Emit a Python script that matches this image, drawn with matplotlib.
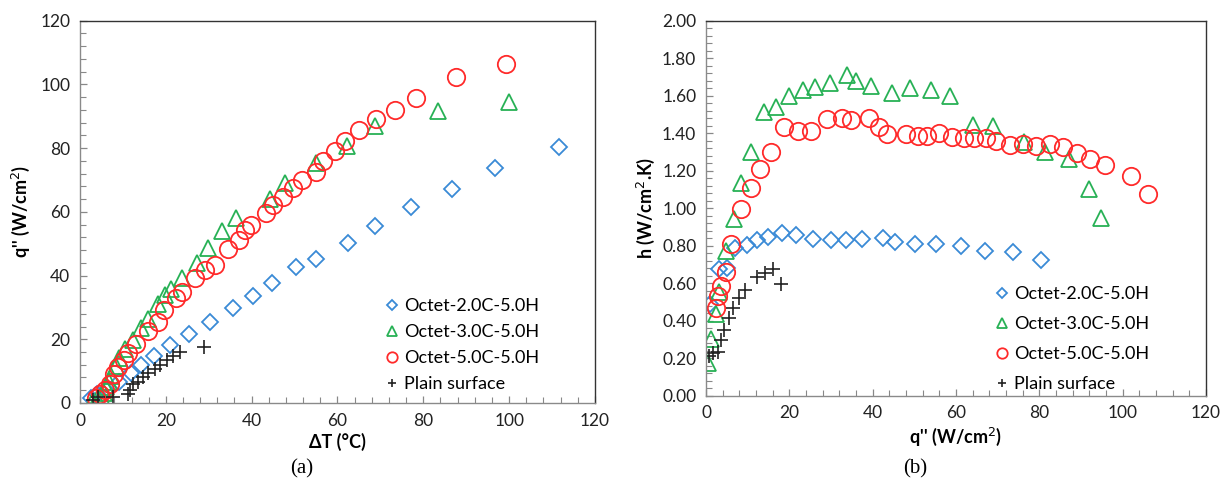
import matplotlib
matplotlib.use("Agg")
import matplotlib.pyplot as plt
from matplotlib.ticker import MultipleLocator, FormatStrFormatter

plt.rcParams['font.family'] = ['Lato', 'DejaVu Sans']

# --- (a) boiling curves: heat flux vs wall superheat ---
dT_20 = [2.5, 4.0, 6.0, 9.0, 11.8, 14.2, 17.3, 21.0, 25.3, 30.3, 35.6, 40.4,
         44.8, 50.3, 55.1, 62.4, 68.8, 77.1, 86.7, 96.6, 111.6]
q_20 = [1.5, 2.8, 4.2, 6.5, 9.3, 12.0, 14.9, 18.2, 21.8, 25.5, 29.9, 33.7,
        37.7, 42.6, 45.3, 50.1, 55.5, 61.4, 67.2, 73.6, 80.4]

dT_30 = [2.8, 4.0, 5.0, 5.5, 6.1, 6.8, 7.3, 8.4, 9.1, 10.5, 12.4, 14.2, 15.8,
         18.2, 19.9, 21.2, 23.8, 27.3, 29.8, 33.1, 36.3, 44.2, 47.8, 55.0,
         62.2, 68.7, 83.4, 100.0]
q_30 = [0.4, 1.2, 2.2, 3.1, 5.0, 6.6, 8.4, 11.5, 14.1, 16.8, 19.7, 23.4, 26.5,
        31.2, 33.8, 35.8, 39.3, 44.0, 48.5, 53.9, 58.1, 63.9, 69.1, 75.4,
        80.6, 86.9, 91.6, 94.6]

dT_50 = [3.7, 4.7, 5.8, 7.0, 7.9, 8.9, 10.3, 11.2, 13.0, 15.8, 18.2, 19.6,
         22.4, 23.8, 26.7, 29.1, 31.4, 34.5, 37.0, 38.4, 39.9, 43.3, 45.0,
         47.3, 49.7, 51.7, 55.0, 56.6, 59.5, 61.7, 65.1, 69.0, 73.3, 78.3,
         87.7, 99.3]
q_50 = [1.7, 2.9, 4.2, 6.1, 9.2, 11.3, 13.4, 15.7, 18.6, 22.5, 25.4, 29.1,
        33.0, 34.9, 39.3, 41.7, 43.2, 48.2, 51.1, 54.2, 55.8, 59.5, 62.1,
        64.7, 67.6, 69.9, 72.6, 75.9, 79.2, 82.3, 85.7, 89.0, 92.1, 95.8,
        102.2, 106.4]

dT_plain = [3.1, 4.3, 7.8, 11.3, 11.6, 12.3, 13.6, 14.7, 15.9, 17.5, 18.6,
            20.2, 21.7, 23.3, 28.9]
q_plain = [0.9, 1.8, 2.0, 2.8, 4.1, 6.0, 6.7, 8.1, 9.3, 10.6, 11.9, 13.5,
           14.8, 16.1, 17.7]

# --- (b) heat transfer coefficient vs heat flux ---
qb_20 = [1.0, 3.0, 5.0, 7.0, 9.8, 12.2, 14.8, 18.2, 21.6, 25.6, 29.9, 33.6,
         37.4, 42.4, 45.3, 50.2, 55.1, 61.3, 67.0, 73.6, 80.4]
h_20 = [0.487, 0.674, 0.683, 0.786, 0.804, 0.830, 0.848, 0.866, 0.857, 0.836,
        0.830, 0.830, 0.836, 0.843, 0.821, 0.807, 0.807, 0.798, 0.773, 0.764,
        0.724]

qb_30 = [0.5, 1.2, 2.3, 3.1, 4.9, 6.6, 8.5, 10.9, 13.9, 16.8, 19.9, 23.2,
         26.2, 29.7, 33.8, 36.0, 39.7, 44.6, 49.0, 54.1, 58.5, 64.1, 68.9,
         76.2, 81.3, 87.2, 91.9, 94.7]
h_30 = [0.172, 0.30, 0.434, 0.555, 0.773, 0.940, 1.132, 1.301, 1.515, 1.538,
        1.60, 1.630, 1.648, 1.669, 1.710, 1.678, 1.652, 1.616, 1.639, 1.630,
        1.598, 1.444, 1.44, 1.355, 1.30, 1.26, 1.10, 0.946]

qb_50 = [2.3, 2.9, 3.6, 4.7, 6.1, 8.3, 10.8, 13.0, 15.6, 18.7, 22.0, 25.3,
         29.0, 32.6, 34.9, 39.2, 41.6, 43.5, 47.9, 50.9, 53.1, 55.9, 59.0,
         61.8, 64.4, 67.2, 69.6, 72.9, 76.0, 79.2, 82.5, 85.6, 89.1, 92.2,
         95.7, 102.1, 106.1]
h_50 = [0.47, 0.53, 0.587, 0.661, 0.809, 0.994, 1.106, 1.207, 1.301, 1.433,
        1.412, 1.412, 1.476, 1.479, 1.470, 1.479, 1.435, 1.396, 1.396, 1.385,
        1.385, 1.403, 1.378, 1.376, 1.376, 1.372, 1.360, 1.337, 1.340, 1.332,
        1.342, 1.324, 1.292, 1.260, 1.230, 1.172, 1.076]

qb_plain = [0.75, 1.7, 2.8, 3.6, 4.3, 5.5, 6.4, 7.8, 9.4, 12.3, 14.2, 16.1,
            17.9]
h_plain = [0.212, 0.229, 0.235, 0.297, 0.350, 0.412, 0.466, 0.519, 0.564,
           0.631, 0.656, 0.674, 0.596]

labels = ["Octet-2.0C-5.0H", "Octet-3.0C-5.0H", "Octet-5.0C-5.0H", "Plain surface"]
BLUE, GREEN, RED = "#3a8ad6", "#27b155", "#ff2a2a"


def draw_series(ax, sets):
    styles = [
        dict(marker="D", ms=8.5, mfc="none", mec=BLUE, mew=1.3),
        dict(marker="^", ms=11.5, mfc="none", mec=GREEN, mew=1.3),
        dict(marker="o", ms=12.5, mfc="none", mec=RED, mew=1.3),
        dict(marker="+", ms=10, mec="#222222", mew=1.2),
    ]
    for (x, y), st, lab in zip(sets, styles, labels):
        ax.plot(x, y, ls="none", label=lab, **st)


def style_axes(ax, xmaj, xmin, ymaj, ymin):
    ax.xaxis.set_major_locator(MultipleLocator(xmaj))
    ax.xaxis.set_minor_locator(MultipleLocator(xmin))
    ax.yaxis.set_major_locator(MultipleLocator(ymaj))
    ax.yaxis.set_minor_locator(MultipleLocator(ymin))
    ax.tick_params(which="both", direction="in", top=False, right=False,
                   color="#888888", labelsize=12.5, labelcolor="#222222")
    ax.tick_params(which="major", length=5, width=0.9, pad=7)
    ax.tick_params(which="minor", length=4, width=0.8)
    for side in ("left", "bottom"):
        ax.spines[side].set_color("#8a8a8a")
    for side in ("top", "right"):
        ax.spines[side].set_color("#333333")
    for s in ax.spines.values():
        s.set_linewidth(1.0)


fig = plt.figure(figsize=(12.29, 4.9), dpi=100)
ax1 = fig.add_axes([0.0651, 0.1776, 0.4190, 0.7802])
ax2 = fig.add_axes([0.5745, 0.1924, 0.4068, 0.7654])

draw_series(ax1, [(dT_20, q_20), (dT_30, q_30), (dT_50, q_50), (dT_plain, q_plain)])
ax1.set_xlim(0, 120)
ax1.set_ylim(0, 120)
style_axes(ax1, 20, 4, 20, 4)
ax1.set_xlabel("ΔT (°C)", fontsize=13, fontweight="bold", labelpad=3)
ax1.set_ylabel("q'' (W/cm$^2$)", fontsize=13, fontweight="bold", labelpad=6)

draw_series(ax2, [(qb_20, h_20), (qb_30, h_30), (qb_50, h_50), (qb_plain, h_plain)])
ax2.set_xlim(0, 120)
ax2.set_ylim(0, 2.0)
style_axes(ax2, 20, 4, 0.2, 0.04)
ax2.yaxis.set_major_formatter(FormatStrFormatter("%.2f"))
ax2.set_xlabel("q'' (W/cm$^2$)", fontsize=13, fontweight="bold", labelpad=3)
ax2.set_ylabel("h (W/cm$^2$.K)", fontsize=13, fontweight="bold", labelpad=4)

for ax, anchor, spacing in ((ax1, (0.575, 0.0), 0.55), (ax2, (0.56, -0.02), 0.78)):
    ax.legend(loc="lower left", bbox_to_anchor=anchor, frameon=False,
              fontsize=13, markerscale=0.6, handlelength=0.6,
              handletextpad=0.35, labelspacing=spacing, borderaxespad=0.2)

fig.text(0.2457, 0.023, "(a)", ha="center", va="bottom", fontsize=15,
         family="Liberation Serif")
fig.text(0.7449, 0.023, "(b)", ha="center", va="bottom", fontsize=15,
         family="Liberation Serif")

fig.savefig("out.png", dpi=100)
